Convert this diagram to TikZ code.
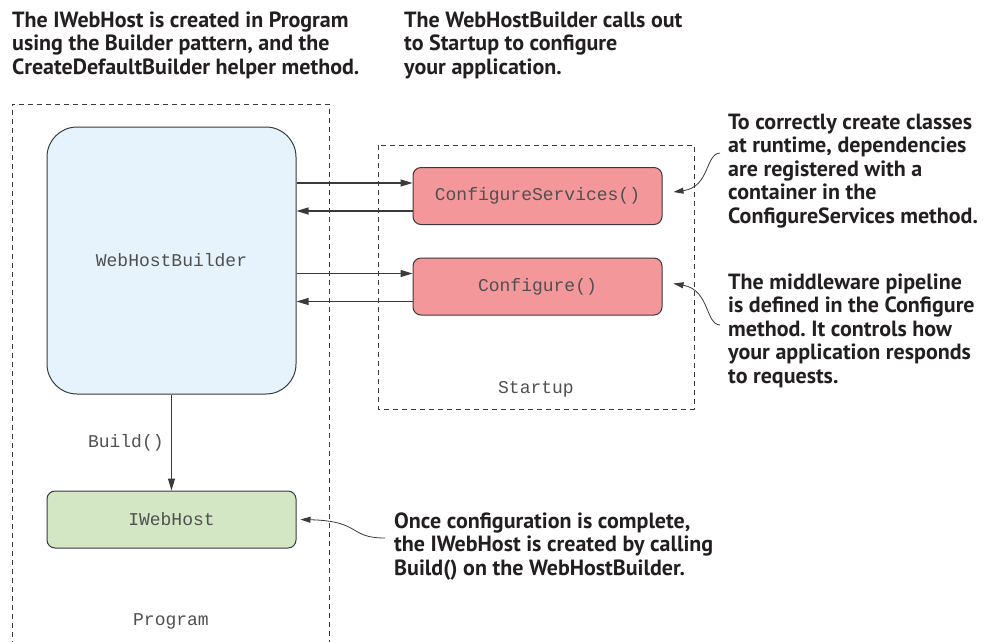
\documentclass[tikz,border=0pt]{standalone}
\usepackage{fontspec}
\setmonofont{Liberation Mono}
\newfontfamily\notefont{PT Sans}
\usetikzlibrary{arrows.meta,calc}
\frenchspacing

\definecolor{edge}{HTML}{3A3A3A}
\definecolor{codetext}{HTML}{505050}
\definecolor{notetext}{HTML}{231F20}
\definecolor{builderblue}{HTML}{E6F3FC}
\definecolor{startpink}{HTML}{F4979B}
\definecolor{hostgreen}{HTML}{D4E7C5}

\begin{document}
\begin{tikzpicture}
  [x=1pt,y=-1pt,
   box/.style={draw=edge,line width=1pt,rounded corners=8pt,minimum width=249pt,
     minimum height=57pt,text=codetext,font=\ttfamily\fontsize{18}{20}\selectfont},
   group/.style={draw=edge,line width=0.9pt,dash pattern=on 5pt off 4pt},
   caption/.style={text=codetext,font=\ttfamily\fontsize{18}{20}\selectfont},
   flow/.style={draw=edge,line width=1.1pt,-{Triangle[length=12pt,width=7pt]}},
   hint/.style={draw=edge,line width=0.8pt,-{Triangle[length=10pt,width=6pt]}},
   note/.style={inner sep=0pt,anchor=base west,align=left,text=notetext,
     font=\notefont\bfseries\fontsize{22}{23.5}\selectfont}]
  \useasboundingbox (0,0) rectangle (991,641);

  \draw[group] (12,646) |- (329,104) -- (329,646);
  \draw[group] (378,145) rectangle (694,409);

  \node[box,fill=builderblue,minimum height=267pt,rounded corners=30pt] (whb) at (171.5,260.5) {WebHostBuilder};
  \node[box,fill=startpink] (cs) at (537.5,196) {ConfigureServices()};
  \node[box,fill=startpink] (cfg) at (537.5,286.5) {Configure()};
  \node[box,fill=hostgreen] (host) at (171.5,519.5) {IWebHost};

  \node[caption] (startup) at (536,389) {Startup};
  \node[caption] (program) at (171,621) {Program};

  \foreach \n in {cs,cfg} {
    \path (\n.west) ++(0,-13) coordinate (\n-in) ++(0,28) coordinate (\n-out);
    \draw[flow] (whb.east |- \n-in) -- (\n-in);
    \draw[flow] (\n-out) -- (whb.east |- \n-out);
  }
  \draw[flow] (whb) -- (host) node[caption,midway,left=4pt] (build) {Build()};

  \node[note] (n-program) at (12,74) {The IWebHost is created in Program\\using the Builder pattern, and the\\CreateDefaultBuilder helper method.};
  \node[note] (n-startup) at (404,74) {The WebHostBuilder calls out\\to Startup to configure\\your application.};
  \node[note] (n-services) at (728,223) {To correctly create classes\\at runtime, dependencies\\are registered with a\\container in the\\ConfigureServices method.};
  \node[note] (n-pipeline) at (728,383) {The middleware pipeline\\is defined in the Configure\\method. It controls how\\your application responds\\to requests.};
  \node[note] (n-build) at (394,575) {Once configuration is complete,\\the IWebHost is created by calling\\Build() on the WebHostBuilder.};

  \coordinate (cs-tail) at (720,153);
  \coordinate (cfg-tail) at (720,325);
  \coordinate (host-tail) at (385,538);
  \draw[hint] (cs-tail) .. controls (705,154) and (710,187) .. ($(cs.east)+(11,-4)$);
  \draw[hint] (cfg-tail) .. controls (705,324) and (710,290) .. ($(cfg.east)+(11,-3)$);
  \draw[hint] (host-tail) .. controls (348,538) and (362,521) .. ($(host.east)+(4,0)$);
\end{tikzpicture}
\end{document}
